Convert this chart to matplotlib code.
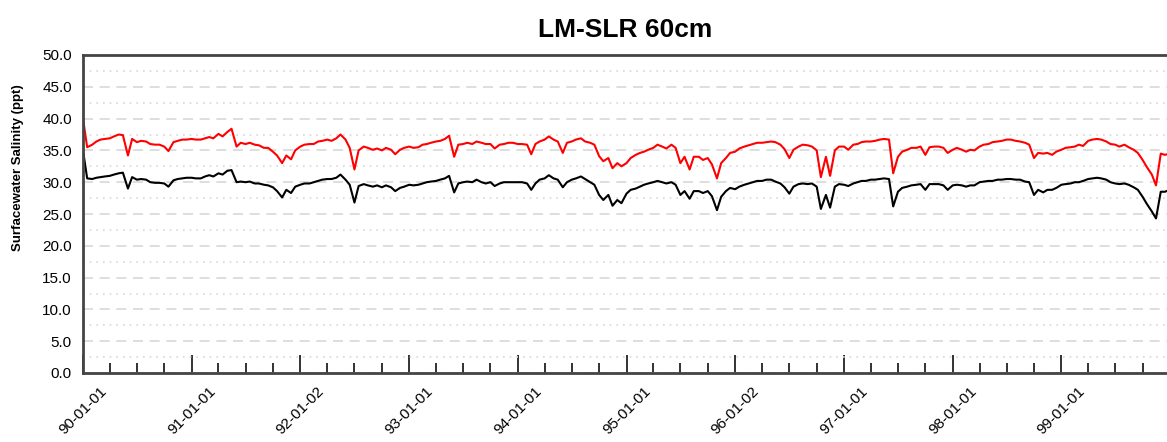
import matplotlib
matplotlib.use("Agg")
import matplotlib.pyplot as plt
import matplotlib.dates as mdates
import pandas as pd
import numpy as np

title = "LM-SLR 60cm"
ylabel = "Surfacewater Salinity (ppt)"
start_date = "1990-01-01"
end_date = "1999-12-31"

# semi-monthly readings (1st and 15th of each month), 1990-1999
red_1990 = [40.0, 35.5, 35.9, 36.4, 36.7, 36.8, 36.9, 37.2, 37.5, 37.4, 34.2, 36.8,
            36.3, 36.5, 36.4, 36.0, 35.9, 35.9, 35.6, 34.9, 36.3, 36.5, 36.7, 36.7]
red_1991 = [36.8, 36.7, 36.7, 36.9, 37.1, 36.9, 37.6, 37.2, 37.9, 38.4, 35.6, 36.2,
            36.0, 36.2, 35.9, 35.8, 35.4, 35.4, 34.8, 34.2, 33.0, 34.2, 33.6, 35.0]
red_1992 = [35.6, 35.9, 36.0, 36.0, 36.4, 36.5, 36.7, 36.5, 36.9, 37.5, 36.7, 35.4,
            32.0, 35.0, 35.6, 35.4, 35.1, 35.3, 35.0, 35.4, 35.1, 34.4, 35.1, 35.4]
red_1993 = [35.6, 35.4, 35.5, 35.9, 36.0, 36.2, 36.4, 36.5, 36.8, 37.3, 34.0, 35.9,
            36.0, 36.2, 36.0, 36.4, 36.2, 36.0, 36.0, 35.3, 35.9, 36.0, 36.2, 36.2]
red_1994 = [36.0, 36.0, 35.9, 34.4, 36.0, 36.4, 36.7, 37.2, 36.7, 36.4, 34.6, 36.2,
            36.4, 36.7, 36.9, 36.4, 36.2, 35.9, 34.1, 33.3, 33.8, 32.2, 33.0, 32.5]
red_1995 = [33.0, 33.8, 34.3, 34.6, 34.8, 35.1, 35.4, 35.9, 35.6, 35.3, 35.9, 35.4,
            33.0, 34.0, 32.0, 34.0, 34.0, 33.5, 33.8, 32.8, 30.6, 33.0, 33.8, 34.6]
red_1996 = [34.8, 35.3, 35.6, 35.8, 36.0, 36.2, 36.2, 36.3, 36.4, 36.3, 35.9, 35.2,
            33.8, 35.1, 35.6, 35.9, 35.8, 35.6, 35.0, 30.8, 34.0, 31.0, 35.0, 35.6]
red_1997 = [35.6, 35.1, 35.9, 36.0, 36.3, 36.4, 36.4, 36.5, 36.7, 36.8, 36.7, 31.4,
            34.0, 34.8, 35.1, 35.4, 35.4, 35.6, 34.3, 35.5, 35.6, 35.6, 35.4, 34.6]
red_1998 = [35.1, 35.4, 35.1, 34.8, 35.1, 35.0, 35.6, 35.9, 36.0, 36.3, 36.4, 36.5,
            36.7, 36.7, 36.5, 36.4, 36.2, 35.9, 33.8, 34.6, 34.5, 34.6, 34.3, 34.8]
red_1999 = [35.1, 35.4, 35.5, 35.6, 35.9, 35.7, 36.5, 36.7, 36.8, 36.7, 36.4, 36.0,
            35.9, 35.6, 35.9, 35.5, 35.1, 34.6, 33.5, 32.4, 31.2, 29.5, 34.5, 34.3, 34.5]

black_1990 = [35.0, 30.6, 30.5, 30.7, 30.8, 30.9, 31.0, 31.2, 31.4, 31.5, 29.0, 30.8,
              30.4, 30.5, 30.4, 30.0, 29.9, 29.9, 29.8, 29.3, 30.3, 30.5, 30.6, 30.7]
black_1991 = [30.7, 30.6, 30.6, 30.9, 31.1, 30.9, 31.4, 31.2, 31.8, 31.9, 30.0, 30.1,
              30.0, 30.1, 29.8, 29.8, 29.6, 29.5, 29.2, 28.6, 27.6, 28.8, 28.3, 29.3]
black_1992 = [29.6, 29.8, 29.8, 30.0, 30.2, 30.4, 30.5, 30.5, 30.7, 31.2, 30.4, 29.6,
              26.8, 29.4, 29.7, 29.5, 29.3, 29.5, 29.2, 29.5, 29.2, 28.6, 29.1, 29.3]
black_1993 = [29.6, 29.5, 29.6, 29.8, 30.0, 30.1, 30.2, 30.4, 30.6, 31.0, 28.4, 29.8,
              30.0, 30.1, 30.0, 30.4, 30.0, 29.8, 30.0, 29.4, 29.8, 30.0, 30.0, 30.0]
black_1994 = [30.0, 30.0, 29.8, 28.8, 29.8, 30.4, 30.6, 31.1, 30.6, 30.4, 29.2, 30.0,
              30.4, 30.6, 30.9, 30.5, 30.0, 29.6, 28.0, 27.2, 28.0, 26.3, 27.2, 26.7]
black_1995 = [28.2, 28.8, 29.0, 29.3, 29.6, 29.8, 30.0, 30.2, 30.0, 29.8, 30.0, 29.6,
              28.0, 28.6, 27.4, 28.6, 28.6, 28.3, 28.6, 27.8, 25.6, 27.7, 28.6, 29.1]
black_1996 = [28.9, 29.3, 29.6, 29.8, 30.0, 30.2, 30.2, 30.4, 30.4, 30.1, 29.8, 29.2,
              28.2, 29.3, 29.7, 29.8, 29.7, 29.8, 29.3, 25.8, 28.0, 26.0, 29.3, 29.7]
black_1997 = [29.6, 29.4, 29.8, 30.0, 30.2, 30.2, 30.4, 30.4, 30.5, 30.6, 30.5, 26.2,
              28.5, 29.1, 29.3, 29.5, 29.6, 29.7, 28.8, 29.7, 29.7, 29.7, 29.5, 28.8]
black_1998 = [29.5, 29.6, 29.5, 29.3, 29.5, 29.5, 30.0, 30.1, 30.2, 30.2, 30.4, 30.4,
              30.5, 30.5, 30.4, 30.4, 30.1, 30.0, 28.0, 28.8, 28.4, 28.8, 28.8, 29.1]
black_1999 = [29.6, 29.7, 29.8, 30.0, 30.0, 30.2, 30.5, 30.6, 30.7, 30.6, 30.4, 30.0,
              29.8, 29.7, 29.8, 29.6, 29.2, 28.8, 27.7, 26.6, 25.4, 24.3, 28.5, 28.5, 28.8]

xtick_labels = ["90-01-01", "91-01-01", "92-01-02", "93-01-01", "94-01-01",
                "95-01-01", "96-01-02", "97-01-01", "98-01-01", "99-01-01"]
ytick_values = [0, 5, 10, 15, 20, 25, 30, 35, 40, 45, 50]

red = (red_1990 + red_1991 + red_1992 + red_1993 + red_1994 + red_1995 +
       red_1996 + red_1997 + red_1998 + red_1999)
black = (black_1990 + black_1991 + black_1992 + black_1993 + black_1994 +
         black_1995 + black_1996 + black_1997 + black_1998 + black_1999)

dates = list(pd.date_range(start_date, periods=240, freq="SMS")) + [pd.Timestamp(end_date)]

W, H = 1167, 442
fig = plt.figure(figsize=(W / 100, H / 100), dpi=100)
left, right, top, bottom = 83, 1170, 55, 373
ax = fig.add_axes([left / W, 1 - bottom / H, (right - left) / W, (bottom - top) / H])

ax.plot(dates, red, color="#ff0000", lw=1.5)
ax.plot(dates, black, color="#000000", lw=1.5)

ax.set_ylim(0, 50)
ax.set_xlim(pd.Timestamp("1990-01-01"), pd.Timestamp("2000-01-01"))

ax.set_yticks(ytick_values)
ax.set_yticklabels([f"{v:.1f}" for v in ytick_values], fontsize=11,
                   family="Liberation Sans")
ax.set_yticks(np.arange(2.5, 50, 5), minor=True)
ax.tick_params(axis="y", which="both", length=0, pad=8)

year_ticks = [pd.Timestamp(f"{y}-01-01") for y in range(1990, 2000)]
ax.set_xticks(year_ticks)
ax.set_xticklabels(xtick_labels, rotation=45, ha="center",
                   fontsize=11, family="Liberation Sans")
ax.xaxis.set_minor_locator(mdates.MonthLocator(bymonth=[4, 7, 10]))
ax.tick_params(axis="x", which="major", direction="in", length=13, width=1.3,
               color="#222222", pad=8)
ax.tick_params(axis="x", which="minor", direction="in", length=7, width=1.3,
               color="#222222")

ax.grid(True, axis="y", which="major", color="#d8d8d8", linestyle=(0, (6, 4)), lw=1.2)
ax.grid(True, axis="y", which="minor", color="#d8d8d8", linestyle=(0, (1, 3)), lw=1.2)
ax.set_axisbelow(True)

for s in ["left", "top", "bottom"]:
    ax.spines[s].set_color("#444444")
    ax.spines[s].set_linewidth(2)
ax.spines["right"].set_visible(False)

fig.text(625 / W, 1 - 30 / H, title, ha="center", va="center", fontsize=19,
         fontweight="bold", family="Liberation Sans")
fig.text(18 / W, 1 - 168 / H, ylabel, ha="center", va="center", rotation=90,
         fontsize=9.5, fontweight="bold", family="Liberation Sans")

fig.savefig("out.png", dpi=100)
